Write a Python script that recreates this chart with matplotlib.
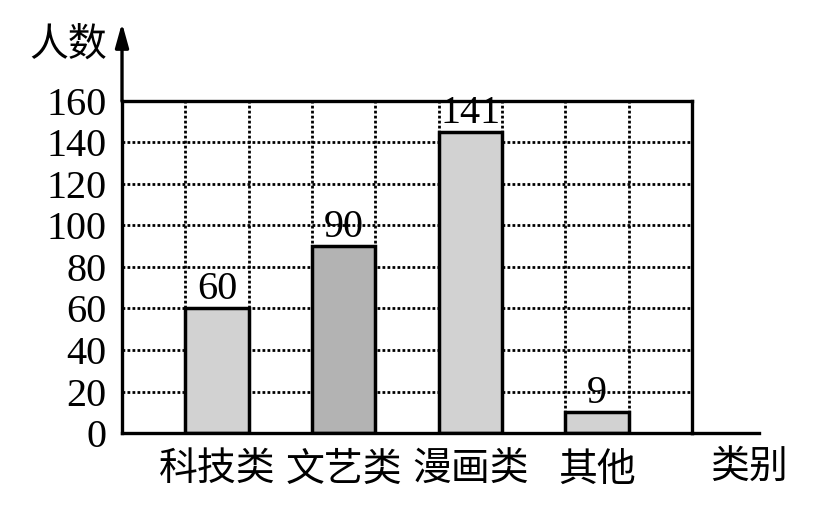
import matplotlib
matplotlib.use("Agg")
import matplotlib.pyplot as plt

# data
categories = ["科技类", "文艺类", "漫画类", "其他"]
drawn_heights = [60, 90, 145, 10]        # heights as drawn in the figure
value_labels = ["60", "90", "141", "9"]  # numbers printed above the bars
bar_colors = ["#d2d2d2", "#b3b3b3", "#d2d2d2", "#d2d2d2"]
y_ticks = [0, 20, 40, 60, 80, 100, 120, 140, 160]

CJK = ["Noto Sans CJK SC", "DejaVu Sans"]
SERIF = ["Liberation Serif", "DejaVu Serif"]

fig = plt.figure(figsize=(8.38, 5.26), dpi=100)
ax = fig.add_axes([0.1456, 0.1768, 0.6802, 0.6312])

n_cells = 9
bar_x = [1.5 + 2 * i for i in range(len(categories))]

# dotted grid behind the bars
for y in y_ticks[1:-1]:
    ax.plot([0, n_cells], [y, y], ls=(0, (1, 0.8)), c="black", lw=2, zorder=1)
for x in range(1, n_cells):
    ax.plot([x, x], [0, 160], ls=(0, (1, 0.8)), c="black", lw=2, zorder=1)

ax.bar(bar_x, drawn_heights, width=1.0, color=bar_colors,
       edgecolor="black", linewidth=2.5, zorder=2)
for x, h, lab in zip(bar_x, drawn_heights, value_labels):
    ax.annotate(lab, (x, h), xytext=(0, 0), textcoords="offset points",
                ha="center", va="bottom", fontsize=29, family=SERIF, zorder=3)

ax.set_xlim(0, n_cells)
ax.set_ylim(0, 160)
for s in ax.spines.values():
    s.set_linewidth(2.4)
    s.set_zorder(4)

ax.set_yticks(y_ticks)
ax.set_yticklabels([str(v) for v in y_ticks], fontsize=29, family=SERIF)
ax.set_xticks(bar_x)
ax.set_xticklabels(categories, fontsize=28, family=CJK)
ax.tick_params(axis="y", length=0, pad=11)
ax.tick_params(axis="x", length=0, pad=12)

# y axis arrow and extended x axis
ax.annotate("", xy=(0, 1.235), xycoords="axes fraction", xytext=(0, 1.0),
            arrowprops=dict(arrowstyle="-|>,head_length=0.72,head_width=0.2",
                            mutation_scale=20, color="black", lw=2.4,
                            shrinkA=0, shrinkB=0))
ax.plot([n_cells, 10.05], [0, 0], c="black", lw=2.4, clip_on=False, zorder=4)

ax.text(-0.026, 1.166, "人数", transform=ax.transAxes, ha="right", va="center",
        fontsize=28, family=CJK)
ax.text(9.9, -0.104, "类别", transform=ax.get_xaxis_transform(), ha="center",
        va="center", fontsize=28, family=CJK)

fig.savefig("out.png", dpi=100)
